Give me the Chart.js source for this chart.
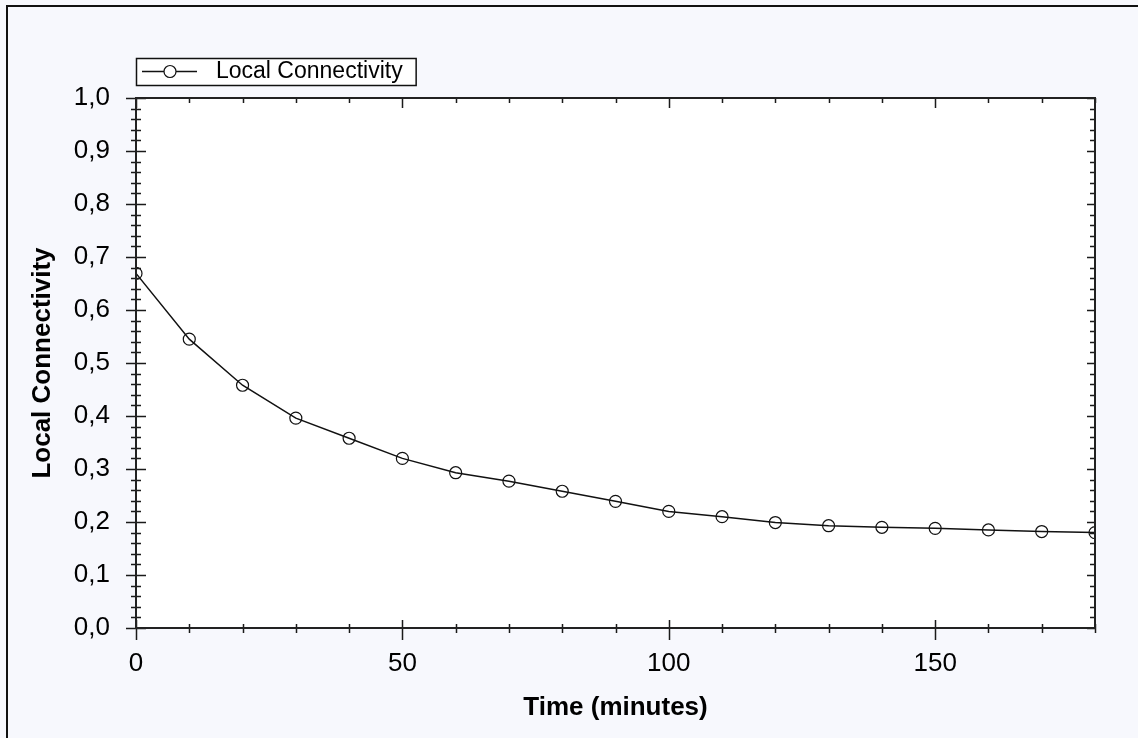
<!DOCTYPE html>
<html>
<head>
<meta charset="utf-8">
<title>Local Connectivity</title>
<script src="https://cdn.jsdelivr.net/npm/chart.js@4.4.1/dist/chart.umd.min.js"></script>
<style>
  html, body { margin: 0; padding: 0; background: #f7f8fd; overflow: hidden; }
  #wrap { position: relative; width: 1138px; height: 738px; overflow: hidden; }
  #frame { position: absolute; left: 6px; top: 5px; width: 1200px; height: 800px;
           border-left: 2px solid #111; border-top: 2px solid #111; }
  #chart { position: absolute; left: 0; top: 0; }
</style>
</head>
<body>
<div id="wrap">
  <div id="frame"></div>
  <canvas id="chart" width="1138" height="738"></canvas>
</div>
<script>
// Sampling times (minutes) and measured connectivity
const timeMinutes = [0, 10, 20, 30, 40, 50, 60, 70, 80, 90, 100, 110, 120, 130, 140, 150, 160, 170, 180];
const localConnectivity = [0.669, 0.545, 0.458, 0.396, 0.358, 0.320, 0.293, 0.277, 0.258, 0.239,
                           0.220, 0.210, 0.199, 0.193, 0.190, 0.188, 0.185, 0.182, 0.180];
const seriesLabel = 'Local Connectivity';

// Labelled ticks
const xTickValues = [0, 50, 100, 150];
const yTickValues = [0, 0.1, 0.2, 0.3, 0.4, 0.5, 0.6, 0.7, 0.8, 0.9, 1.0];

const FONT = '"Liberation Sans", Arial, sans-serif';

// White plot area, boxed frame with crossing minor/major ticks, and the legend box
const frameTicks = {
    id: 'frameTicks',
    beforeDraw(chart) {
        const { ctx, chartArea: a } = chart;
        ctx.save();
        ctx.fillStyle = '#ffffff';
        ctx.fillRect(a.left, a.top, a.right - a.left, a.bottom - a.top);
        ctx.restore();
    },
    afterDraw(chart) {
        const { ctx, chartArea: a, scales: { x, y } } = chart;
        ctx.save();
        ctx.strokeStyle = '#1a1a1a';
        ctx.lineWidth = 1.5;
        ctx.beginPath();
        for (let t = 0; t <= 180; t += 10) {
            const px = Math.round(x.getPixelForValue(t)) + 0.5;
            const major = t % 50 === 0;
            ctx.moveTo(px, a.bottom - (major ? 8 : 4));
            ctx.lineTo(px, a.bottom + (major ? 12 : 5));
            ctx.moveTo(px, a.top);
            ctx.lineTo(px, a.top + (major ? 10 : 5));
        }
        for (let i = 0; i <= 50; i++) {
            const py = Math.round(y.getPixelForValue(i * 0.02)) + 0.5;
            const major = i % 5 === 0;
            ctx.moveTo(a.left - (major ? 10 : 5), py);
            ctx.lineTo(a.left + (major ? 10 : 5), py);
            ctx.moveTo(a.right - (major ? 8 : 5), py);
            ctx.lineTo(a.right, py);
        }
        ctx.stroke();

        ctx.lineWidth = 2;
        ctx.strokeStyle = '#222';
        ctx.strokeRect(a.left, a.top, a.right - a.left, a.bottom - a.top);

        // legend
        const ds = chart.data.datasets[0];
        ctx.font = '23px ' + FONT;
        const lx = a.left, ly = a.top - 40, lh = 27;
        const textX = lx + 80;
        const lw = textX + ctx.measureText(ds.label).width + 13 - lx;
        ctx.fillStyle = '#ffffff';
        ctx.fillRect(lx, ly, lw, lh);
        ctx.lineWidth = 1.5;
        ctx.strokeStyle = '#111';
        ctx.strokeRect(lx + 0.5, ly + 0.5, lw, lh);
        const my = ly + lh / 2;
        ctx.beginPath();
        ctx.moveTo(lx + 6, my);
        ctx.lineTo(lx + 61, my);
        ctx.stroke();
        ctx.beginPath();
        ctx.lineWidth = 1.2;
        ctx.arc(lx + 34, my, 6, 0, Math.PI * 2);
        ctx.fill();
        ctx.stroke();
        ctx.fillStyle = '#000';
        ctx.textBaseline = 'middle';
        ctx.textAlign = 'left';
        ctx.fillText(ds.label, textX, my);
        ctx.restore();
    }
};

new Chart(document.getElementById('chart'), {
    type: 'line',
    data: {
        labels: timeMinutes,
        datasets: [{
            label: seriesLabel,
            data: timeMinutes.map((t, i) => ({ x: t, y: localConnectivity[i] })),
            borderColor: '#111',
            borderWidth: 1.5,
            tension: 0,
            pointRadius: 6,
            pointBorderWidth: 1.2,
            pointBorderColor: '#111',
            pointBackgroundColor: 'rgba(0,0,0,0)',
            clip: 0
        }]
    },
    options: {
        responsive: false,
        animation: false,
        layout: { padding: { top: 98, right: 43, left: 0, bottom: 0 } },
        plugins: {
            legend: { display: false },
            tooltip: { enabled: false }
        },
        scales: {
            x: {
                type: 'linear',
                min: 0,
                max: 180,
                afterBuildTicks: s => { s.ticks = xTickValues.map(v => ({ value: v })); },
                afterFit: s => { s.height = 110; },
                grid: { display: false, drawTicks: false },
                border: { display: false },
                ticks: { padding: 20, color: '#000', maxRotation: 0, font: { family: FONT, size: 26 } },
                title: {
                    display: true,
                    text: 'Time (minutes)',
                    color: '#000',
                    padding: { top: 0, bottom: 15 },
                    font: { family: FONT, size: 26, weight: 'bold' }
                }
            },
            y: {
                min: 0,
                max: 1,
                afterBuildTicks: s => { s.ticks = yTickValues.map(v => ({ value: v })); },
                afterFit: s => { s.width = 136; },
                grid: { display: false, drawTicks: false },
                border: { display: false },
                ticks: {
                    padding: 26,
                    color: '#000',
                    font: { family: FONT, size: 26 },
                    callback: v => v.toFixed(1).replace('.', ',')
                },
                title: {
                    display: true,
                    text: 'Local Connectivity',
                    color: '#000',
                    padding: { top: 27, bottom: 0 },
                    font: { family: FONT, size: 26, weight: 'bold' }
                }
            }
        }
    },
    plugins: [frameTicks]
});
</script>
</body>
</html>
